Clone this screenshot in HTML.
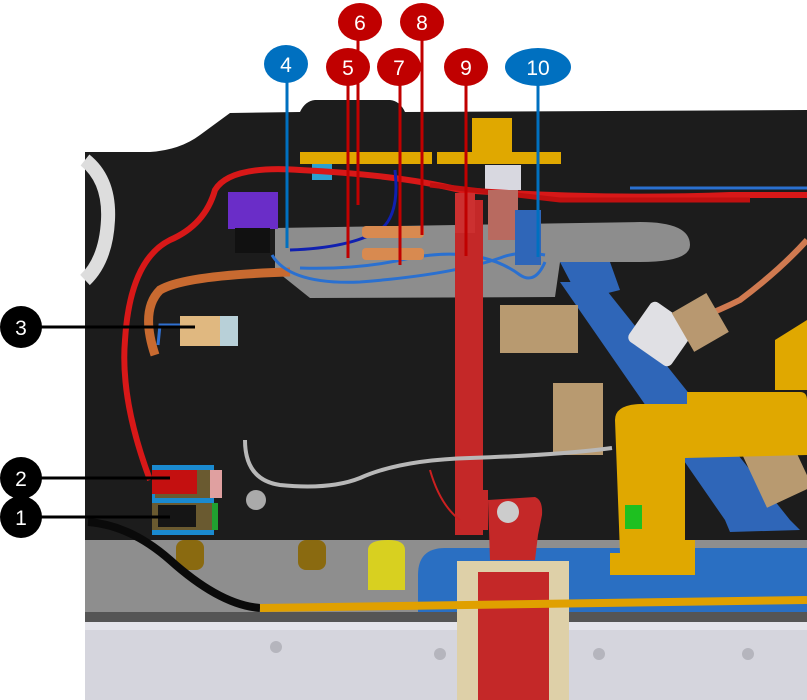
<!DOCTYPE html>
<html><head><style>
html,body{margin:0;padding:0;background:#fff;width:807px;height:700px;overflow:hidden}
svg{display:block}
text{font-family:"Liberation Sans",sans-serif;fill:#fff;text-anchor:middle;font-size:21px}
</style></head><body>
<svg width="807" height="700" viewBox="0 0 807 700" xmlns="http://www.w3.org/2000/svg">
<!-- black panel -->
<path d="M85,152 L150,152 Q180,150 200,135 L230,113 L300,112 Q305,101 315,100 L390,100 Q400,101 405,112 L807,110 L807,545 L85,545 Z" fill="#1c1c1c"/>
<!-- lower gray mechanism area -->
<rect x="85" y="540" width="722" height="85" fill="#8e8e8e"/>
<rect x="85" y="612" width="722" height="12" fill="#555"/>
<rect x="85" y="622" width="722" height="78" fill="#d5d5dd"/>
<rect x="85" y="622" width="722" height="8" fill="#e4e4ea"/>
<circle cx="276" cy="647" r="6" fill="#b5b5bd"/><circle cx="440" cy="654" r="6" fill="#b5b5bd"/><circle cx="599" cy="654" r="6" fill="#b5b5bd"/><circle cx="748" cy="654" r="6" fill="#b5b5bd"/>
<!-- yellowish tabs bottom -->
<rect x="176" y="540" width="28" height="30" rx="8" fill="#8a6a10"/><rect x="298" y="540" width="28" height="30" rx="8" fill="#8a6a10"/>
<path d="M368,550 Q368,540 388,540 Q405,540 405,550 L405,590 L368,590 Z" fill="#d8d020"/>
<!-- blue tub -->
<path d="M418,575 Q418,548 445,548 L807,548 L807,612 L418,612 Z" fill="#2a6fc2"/>
<!-- left white hose -->
<path d="M85,160 Q110,180 108,220 Q106,260 85,280" stroke="#ddd" stroke-width="14" fill="none"/>
<!-- metal plate -->
<path d="M275,228 L640,222 Q690,222 690,245 Q690,262 640,262 L560,262 L555,297 L310,298 L275,270 Z" fill="#8d8d8d"/>
<!-- top brackets -->
<rect x="300" y="152" width="132" height="12" fill="#e0a800"/>
<rect x="437" y="152" width="124" height="12" fill="#e0a800"/>
<rect x="472" y="118" width="40" height="38" fill="#e0a800"/>
<rect x="312" y="164" width="20" height="16" fill="#2aa0d0"/>
<rect x="485" y="165" width="36" height="25" fill="#d8d8e0"/>
<!-- purple part -->
<rect x="228" y="192" width="50" height="37" fill="#6a2dc8"/>
<rect x="235" y="228" width="35" height="25" fill="#111"/>
<!-- red wires -->
<path d="M150,480 Q120,400 125,340 Q130,260 170,240 Q205,225 215,190 Q230,165 300,170 Q400,175 460,190 Q600,200 730,195 L807,195" stroke="#d81818" stroke-width="6" fill="none"/>
<path d="M430,185 L560,200 L750,200" stroke="#c01010" stroke-width="5" fill="none"/>
<!-- orange cable -->
<path d="M155,355 Q140,310 160,290 Q185,275 290,272" stroke="#c86a30" stroke-width="9" fill="none"/>
<path d="M640,390 Q625,340 660,330 Q700,320 740,300 Q780,270 807,240" stroke="#d07a50" stroke-width="6" fill="none"/>
<!-- blue wires -->
<path d="M290,250 Q350,248 380,230 Q400,215 395,170" stroke="#1020b0" stroke-width="3" fill="none"/>
<path d="M272,255 Q290,285 360,282 Q450,275 500,258 Q520,250 545,255" stroke="#2a70d0" stroke-width="3" fill="none"/>
<path d="M300,268 Q360,270 410,258 Q480,245 520,275 Q535,285 545,262" stroke="#2a70d0" stroke-width="3" fill="none"/>
<path d="M630,188 L807,188" stroke="#2a70d0" stroke-width="3"/>
<!-- orange resistors -->
<rect x="362" y="226" width="62" height="12" rx="4" fill="#d88a50"/>
<rect x="362" y="248" width="62" height="12" rx="4" fill="#d88a50"/>
<!-- red vertical bar -->
<rect x="455" y="200" width="28" height="335" fill="#c42828"/>
<rect x="455" y="193" width="20" height="40" fill="#cc3030"/>
<rect x="488" y="190" width="30" height="50" fill="#b86a60"/>
<rect x="515" y="210" width="26" height="55" fill="#2f66b8"/>
<rect x="458" y="490" width="30" height="40" fill="#c42828"/>
<path d="M488,500 L535,497 Q543,500 542,515 L538,535 L535,560 L490,560 Z" fill="#c42828"/>
<circle cx="508" cy="512" r="11" fill="#ccc"/>
<rect x="457" y="561" width="112" height="139" fill="#ded0a8"/>
<rect x="478" y="572" width="71" height="128" fill="#c42828"/>
<!-- blue diagonal bracket -->
<path d="M560,282 L600,282 L790,520 L800,530 L730,532 L725,520 Z" fill="#2f66b8"/>
<path d="M560,262 L610,262 L620,290 L580,300 Z" fill="#2f66b8"/>
<!-- white switch -->
<rect x="635" y="310" width="52" height="48" rx="6" fill="#e0e0e4" transform="rotate(35 661 334)"/>
<rect x="680" y="300" width="40" height="45" fill="#b89870" transform="rotate(-30 700 322)"/>
<!-- tan blocks -->
<rect x="500" y="305" width="78" height="48" fill="#b89a70"/>
<rect x="553" y="383" width="50" height="72" fill="#b89a70"/>
<rect x="752" y="440" width="50" height="60" fill="#b89a70" transform="rotate(-25 777 470)"/>
<!-- gray wire -->
<path d="M245,440 Q245,480 280,485 Q330,490 360,478 Q400,460 470,458 Q560,455 612,448" stroke="#b8b8b8" stroke-width="4" fill="none"/>
<path d="M430,470 Q440,505 460,520" stroke="#cc2020" stroke-width="2" fill="none"/>
<!-- yellow big part -->
<path d="M615,420 Q615,405 640,404 L687,404 L687,392 L800,392 Q807,392 807,400 L807,455 L685,458 L685,540 L695,540 L695,575 L610,575 L610,553 L620,553 Z" fill="#e0a800"/>
<rect x="625" y="505" width="17" height="24" fill="#1ec020"/>
<path d="M775,340 L807,320 L807,390 L775,390 Z" fill="#e0a800"/>
<!-- connectors 1/2 -->
<rect x="152" y="465" width="62" height="70" fill="#1a8ad0"/>
<rect x="155" y="470" width="56" height="28" fill="#6a5a30"/>
<rect x="152" y="470" width="45" height="24" fill="#c41010"/>
<rect x="210" y="470" width="12" height="28" fill="#e0a0a0"/>
<rect x="152" y="503" width="60" height="27" fill="#6a5a30"/>
<rect x="158" y="505" width="38" height="22" fill="#151515"/>
<rect x="212" y="503" width="6" height="27" fill="#20a030"/>
<circle cx="256" cy="500" r="10" fill="#aaa"/>
<!-- connector 3 -->
<rect x="180" y="316" width="40" height="30" fill="#e0b880"/>
<rect x="220" y="316" width="18" height="30" fill="#b8d0d8"/>
<path d="M180,325 L160,325 L158,345" stroke="#3070d0" stroke-width="3" fill="none"/>
<!-- black cable and yellow cable -->
<path d="M88,522 Q130,525 170,560 Q220,605 260,608" stroke="#0a0a0a" stroke-width="8" fill="none"/>
<path d="M260,608 L807,600" stroke="#e0a000" stroke-width="8" fill="none"/>
<!-- white panel strip left -->
<rect x="85" y="150" width="0" height="0"/>
<!-- label lines -->
<g stroke-width="3">
<line x1="287" y1="70" x2="287" y2="248" stroke="#0070c0"/>
<line x1="538" y1="70" x2="538" y2="257" stroke="#0070c0"/>
<line x1="348" y1="70" x2="348" y2="258" stroke="#c00000"/>
<line x1="358" y1="25" x2="358" y2="205" stroke="#c00000"/>
<line x1="400" y1="70" x2="400" y2="265" stroke="#c00000"/>
<line x1="422" y1="25" x2="422" y2="235" stroke="#c00000"/>
<line x1="466" y1="70" x2="466" y2="256" stroke="#c00000"/>
<line x1="21" y1="327" x2="195" y2="327" stroke="#000"/>
<line x1="21" y1="478" x2="170" y2="478" stroke="#000"/>
<line x1="21" y1="517" x2="170" y2="517" stroke="#000"/>
</g>
<!-- labels -->
<ellipse cx="360" cy="22" rx="22" ry="19" fill="#c00000"/><text x="360" y="30">6</text>
<ellipse cx="422" cy="22" rx="22" ry="19" fill="#c00000"/><text x="422" y="30">8</text>
<ellipse cx="286" cy="64" rx="22" ry="19" fill="#0070c0"/><text x="286" y="72">4</text>
<ellipse cx="348" cy="67" rx="22" ry="19" fill="#c00000"/><text x="348" y="75">5</text>
<ellipse cx="399" cy="67" rx="22" ry="19" fill="#c00000"/><text x="399" y="75">7</text>
<ellipse cx="466" cy="67" rx="22" ry="19" fill="#c00000"/><text x="466" y="75">9</text>
<ellipse cx="538" cy="67" rx="33" ry="19" fill="#0070c0"/><text x="538" y="75">10</text>
<circle cx="21" cy="327" r="21" fill="#000"/><text x="21" y="335">3</text>
<circle cx="21" cy="478" r="21" fill="#000"/><text x="21" y="486">2</text>
<circle cx="21" cy="517" r="21" fill="#000"/><text x="21" y="525">1</text>
</svg>
</body></html>
